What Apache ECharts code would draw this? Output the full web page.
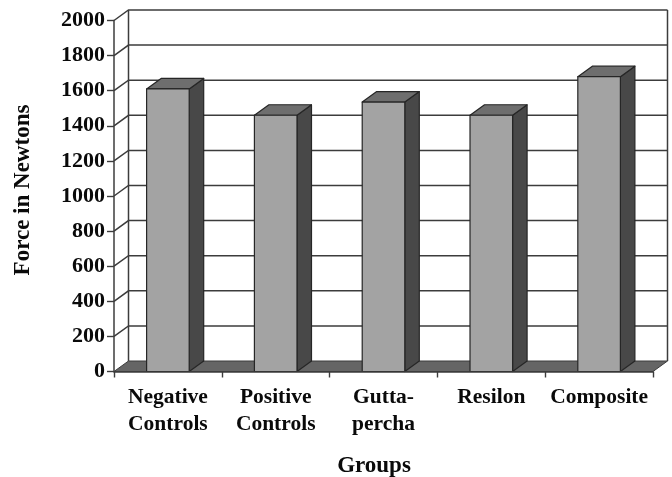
<!DOCTYPE html>
<html><head><meta charset="utf-8">
<style>html,body{margin:0;padding:0;background:#fff}#c{width:672px;height:477px}</style>
<script src="https://cdn.jsdelivr.net/npm/echarts@6/dist/echarts.min.js"></script>
</head><body><div id="c"></div>
<script>
var categories = ['Negative\nControls','Positive\nControls','Gutta-\npercha','Resilon','Composite'];
var forces = [1610, 1460, 1535, 1460, 1680];
var yTicks = [0,200,400,600,800,1000,1200,1400,1600,1800,2000];

var DX = 14.5, DY = -10.5, BAR_RATIO = 0.395;
var LINE = '#3c3c3c', EDGE = '#262626';
var FONT = '"Liberation Serif","Times New Roman",serif';

function wallItem(params, api) {
  var cs = params.coordSys;
  var y = api.coord([0, api.value(0)])[1];
  var x0 = cs.x, x1 = cs.x + cs.width;
  var children = [];
  var lineStyle = {stroke: LINE, lineWidth: 1.5, fill: null};
  if (api.value(0) === 0) {
    children.push({type:'polygon', shape:{points:[[x0,y],[x1,y],[x1+DX,y+DY],[x0+DX,y+DY]]},
      style:{fill:'#656565', stroke:LINE, lineWidth:1}});
    children.push({type:'line', shape:{x1:x0+DX,y1:cs.y+DY,x2:x0+DX,y2:y+DY}, style:lineStyle});
    children.push({type:'line', shape:{x1:x1+DX,y1:cs.y+DY,x2:x1+DX,y2:y+DY}, style:lineStyle});
  } else {
    children.push({type:'polyline', shape:{points:[[x0,y],[x0+DX,y+DY],[x1+DX,y+DY]]}, style:lineStyle});
  }
  return {type:'group', children:children};
}

function barItem(params, api) {
  var c = api.coord([api.value(0), api.value(1)]);
  var base = api.coord([api.value(0), 0])[1];
  var w = api.size([1,0])[0] * BAR_RATIO;
  var l = c[0] - w/2, r = c[0] + w/2, t = c[1];
  var st = function(f){ return {fill:f, stroke:EDGE, lineWidth:1.2, lineJoin:'round'}; };
  return {type:'group', children:[
    {type:'polygon', shape:{points:[[r,t],[r+DX,t+DY],[r+DX,base+DY],[r,base]]}, style:st('#484848')},
    {type:'polygon', shape:{points:[[l,t],[l+DX,t+DY],[r+DX,t+DY],[r,t]]}, style:st('#6e6e6e')},
    {type:'rect', shape:{x:l,y:t,width:w,height:base-t}, style:st('#a3a3a3')}
  ]};
}

var chart = echarts.init(document.getElementById('c'), null, {renderer:'canvas'});
chart.setOption({
  animation:false,
  backgroundColor:'#fff',
  grid:{left:114, right:19, top:20.5, bottom:105.5, containLabel:false, outerBoundsMode:'none'},
  xAxis:{
    type:'category', data:categories, boundaryGap:true,
    name:'Groups', nameLocation:'middle', nameGap:83,
    nameTextStyle:{fontFamily:FONT,fontWeight:'bold',fontSize:23,color:'#0a0a0a',padding:[0,19,0,0]},
    axisLine:{lineStyle:{color:LINE,width:1.5}},
    axisTick:{show:true,alignWithLabel:false,length:6,lineStyle:{color:LINE,width:1.4}},
    axisLabel:{interval:0,margin:12,fontFamily:FONT,fontWeight:'bold',fontSize:21.5,color:'#0a0a0a',lineHeight:27,verticalAlign:'top'},
    splitLine:{show:false}, z:5
  },
  yAxis:{
    type:'value', min:0, max:2000, interval:200,
    name:'Force in Newtons', nameLocation:'middle', nameGap:79, nameRotate:90,
    nameTextStyle:{fontFamily:FONT,fontWeight:'bold',fontSize:23,color:'#0a0a0a',padding:[0,0,0,12]},
    axisLine:{show:true,lineStyle:{color:LINE,width:1.5}},
    axisTick:{show:true,length:7,lineStyle:{color:LINE,width:1.4}},
    axisLabel:{margin:9,fontFamily:FONT,fontWeight:'bold',fontSize:22,color:'#0a0a0a',formatter:function(v){return String(v);}},
    splitLine:{show:false}, z:5
  },
  series:[
    {type:'custom', name:'wall', coordinateSystem:'cartesian2d', renderItem:wallItem,
     encode:{y:0}, data:yTicks.map(function(v){return [v];}), z:1, silent:true},
    {type:'custom', name:'Force', coordinateSystem:'cartesian2d', renderItem:barItem,
     encode:{x:0,y:1}, data:forces.map(function(v,i){return [i,v];}), z:3}
  ]
});
</script></body></html>
